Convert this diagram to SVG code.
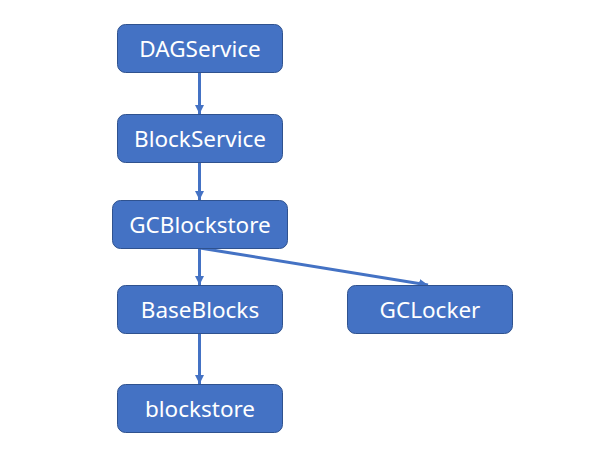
<svg xmlns="http://www.w3.org/2000/svg" width="589" height="458" viewBox="0 0 589 458">
<style>
.box{fill:#4472C4;stroke:#2F528F;stroke-width:1}
.lbl{fill:#FFFFFF;font-family:"Noto Sans","Liberation Sans",sans-serif;font-size:22.5px;text-anchor:middle;dominant-baseline:central}
.edge{stroke:#4472C4;stroke-width:3;fill:none;marker-end:url(#arr)}
</style>
<defs>
<marker id="arr" markerWidth="12" markerHeight="12" refX="9" refY="5" orient="auto" markerUnits="userSpaceOnUse">
<path d="M0,0.5 L9,5 L0,9.5 Z" fill="#4472C4"/>
</marker>
</defs>
<rect width="589" height="458" fill="#FFFFFF"/>
<g id="connectors">
<line class="edge" x1="199.5" y1="72" x2="199.5" y2="114"/>
<line class="edge" x1="199.5" y1="162" x2="199.5" y2="200"/>
<line class="edge" x1="199.5" y1="248" x2="199.5" y2="285"/>
<line class="edge" x1="200" y1="248" x2="428" y2="285"/>
<line class="edge" x1="199.5" y1="333" x2="199.5" y2="384"/>
</g>
<g id="DAGService"><rect class="box" x="117.5" y="24.5" width="165" height="48" rx="8"/><text class="lbl" x="200" y="48">DAGService</text></g>
<g id="BlockService"><rect class="box" x="117.5" y="114.5" width="165" height="48" rx="8"/><text class="lbl" x="200" y="138">BlockService</text></g>
<g id="GCBlockstore"><rect class="box" x="112.5" y="200.5" width="175" height="48" rx="8"/><text class="lbl" x="200" y="224">GCBlockstore</text></g>
<g id="BaseBlocks"><rect class="box" x="117.5" y="285.5" width="165" height="48" rx="8"/><text class="lbl" x="200" y="309">BaseBlocks</text></g>
<g id="GCLocker"><rect class="box" x="347.5" y="285.5" width="165" height="48" rx="8"/><text class="lbl" x="430" y="309">GCLocker</text></g>
<g id="blockstore"><rect class="box" x="117.5" y="384.5" width="165" height="48" rx="8"/><text class="lbl" x="200" y="408">blockstore</text></g>
</svg>
